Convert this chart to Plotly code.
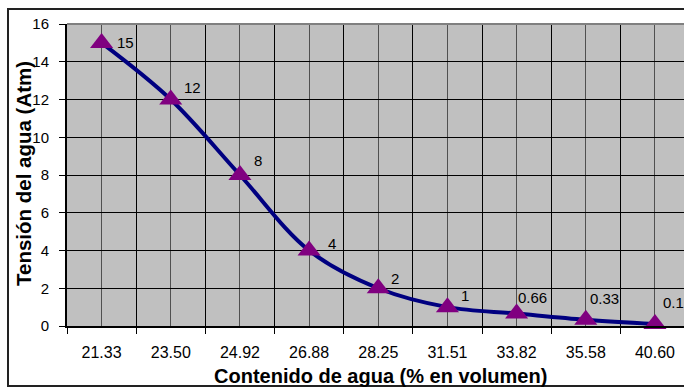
import plotly.graph_objects as go

# Water content categories (% by volume) and matching water tension (Atm)
contenido = ["21.33", "23.50", "24.92", "26.88", "28.25", "31.51", "33.82", "35.58", "40.60"]
tension = [15, 12, 8, 4, 2, 1, 0.66, 0.33, 0.1]
etiquetas = ["15", "12", "8", "4", "2", "1", "0.66", "0.33", "0.1"]

# label offsets in pixels (right, up) from each point
lbl_dx = [13, 11, 12, 17, 11, 12, -1, 2, 6]
lbl_dy = [0, 12, 15, 7, 10, 12, 16, 21, 22]

idx = list(range(len(contenido)))
W, H = 684, 387
ML, MT, MB, MR = 67, 24, 61, 0
pw, ph = W - ML - MR, H - MT - MB

def px_x(p):
    return (p - ML) / pw

def px_y(p):
    return (H - MB - p) / ph

FONT = "Liberation Sans, Arial, sans-serif"

fig = go.Figure()
fig.add_trace(go.Scatter(
    x=idx, y=tension,
    mode="lines+markers",
    line=dict(color="#000080", width=4, shape="spline", smoothing=1),
    marker=dict(symbol="triangle-up", size=20, color="#800080"),
    cliponaxis=False,
    showlegend=False,
))

annotations = [
    dict(x=i, y=v, text=t, xref="x", yref="y", showarrow=False,
         xanchor="left", yanchor="middle", xshift=dx, yshift=dy,
         font=dict(size=15, color="black"))
    for i, v, t, dx, dy in zip(idx, tension, etiquetas, lbl_dx, lbl_dy)
]
annotations += [
    dict(text="<b>Contenido de agua (% en volumen)</b>",
         x=px_x(380), y=px_y(376), xref="paper", yref="paper",
         showarrow=False, font=dict(size=20), xanchor="center", yanchor="middle"),
    dict(text="<b>Tensión del agua (Atm)</b>",
         x=px_x(23), y=px_y(174), xref="paper", yref="paper",
         showarrow=False, font=dict(size=20.5), textangle=-90,
         xanchor="center", yanchor="middle"),
]

fig.update_layout(
    width=W, height=H,
    margin=dict(l=ML, r=MR, t=MT, b=MB),
    paper_bgcolor="white",
    plot_bgcolor="#C0C0C0",
    font=dict(family=FONT, color="black"),
    xaxis=dict(
        range=[-0.5, 8.42],
        tickmode="array",
        tickvals=idx,
        ticktext=contenido,
        ticks="",
        ticklabelstandoff=11,
        tickfont=dict(size=16),
        showgrid=True, gridcolor="#505050", gridwidth=1,
        showline=True, linecolor="black", linewidth=2,
        zeroline=False,
        minor=dict(
            tickmode="array",
            tickvals=[i - 0.5 for i in range(len(contenido) + 1)],
            ticks="outside", ticklen=6, tickcolor="black", tickwidth=1,
            showgrid=True, gridcolor="black", gridwidth=1,
        ),
    ),
    yaxis=dict(
        range=[0, 16],
        tickmode="linear", tick0=0, dtick=2,
        ticks="outside", ticklen=6, tickcolor="black",
        ticklabelstandoff=7,
        tickfont=dict(size=15),
        showgrid=True, gridcolor="black", gridwidth=1,
        showline=True, linecolor="black", linewidth=2,
        zeroline=False,
    ),
    annotations=annotations,
    shapes=[
        # plot area top edge
        dict(type="line", xref="paper", yref="paper", x0=0, x1=1, y0=1, y1=1,
             line=dict(color="#808080", width=2)),
        # chart area frame
        dict(type="rect", xref="paper", yref="paper",
             x0=px_x(8), x1=1.2, y0=px_y(386), y1=px_y(9),
             line=dict(color="#222", width=2), layer="below"),
    ],
)

fig.write_html("out.html")
